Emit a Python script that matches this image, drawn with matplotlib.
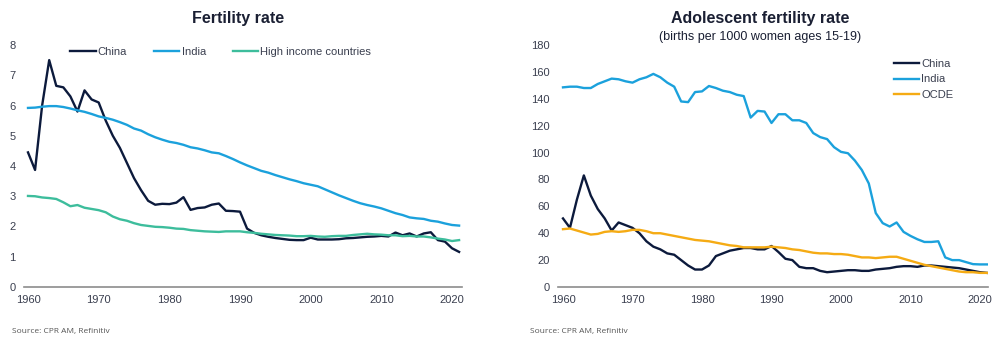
import matplotlib
matplotlib.use("Agg")
import matplotlib.pyplot as plt

plt.rcParams['font.family'] = ['Liberation Sans', 'DejaVu Sans']

years = list(range(1960, 2022))

# Fertility rate (births per woman)
china_fert = [4.45, 3.87, 6.0, 7.5, 6.65, 6.6, 6.3, 5.8, 6.5, 6.2, 6.1, 5.5, 5.0, 4.6, 4.1, 3.6,
              3.2, 2.85, 2.72, 2.75, 2.74, 2.79, 2.97, 2.55, 2.61, 2.63, 2.72, 2.76, 2.52, 2.51,
              2.49, 1.93, 1.79, 1.71, 1.66, 1.62, 1.59, 1.56, 1.55, 1.55, 1.63, 1.57, 1.57, 1.57,
              1.58, 1.61, 1.62, 1.64, 1.66, 1.67, 1.69, 1.67, 1.80, 1.71, 1.77, 1.67, 1.77, 1.81,
              1.55, 1.50, 1.28, 1.16]
india_fert = [5.92, 5.93, 5.96, 5.98, 5.98, 5.95, 5.90, 5.84, 5.79, 5.72, 5.64, 5.59, 5.53, 5.45,
              5.36, 5.24, 5.17, 5.05, 4.95, 4.87, 4.80, 4.76, 4.70, 4.62, 4.58, 4.52, 4.45, 4.42,
              4.33, 4.23, 4.12, 4.02, 3.93, 3.84, 3.78, 3.70, 3.63, 3.56, 3.50, 3.43, 3.38, 3.33,
              3.23, 3.13, 3.03, 2.94, 2.85, 2.77, 2.71, 2.66, 2.60, 2.52, 2.44, 2.38, 2.30, 2.27,
              2.25, 2.19, 2.16, 2.10, 2.05, 2.03]
high_inc_fert = [3.01, 3.00, 2.96, 2.94, 2.91, 2.80, 2.67, 2.71, 2.62, 2.58, 2.54, 2.47, 2.33,
                 2.24, 2.19, 2.11, 2.05, 2.02, 1.99, 1.98, 1.96, 1.93, 1.92, 1.88, 1.86, 1.84,
                 1.83, 1.82, 1.84, 1.84, 1.84, 1.81, 1.79, 1.76, 1.74, 1.72, 1.71, 1.70, 1.68,
                 1.68, 1.69, 1.67, 1.66, 1.68, 1.69, 1.69, 1.72, 1.74, 1.76, 1.74, 1.73, 1.71,
                 1.71, 1.68, 1.69, 1.67, 1.67, 1.64, 1.60, 1.57, 1.52, 1.55]

# Adolescent fertility rate (births per 1000 women ages 15-19)
china_ado = [51, 44, 65, 83, 68, 58, 51, 42, 48, 46, 44, 40, 34, 30, 28, 25, 24, 20, 16, 13,
             13, 16, 23, 25, 27, 28, 29, 29, 28, 28, 30.5, 26, 21, 20, 15, 14, 14, 12, 11, 11.5,
             12, 12.5, 12.5, 12, 12, 13, 13.5, 14, 15, 15.5, 15.5, 15, 16, 16, 15.5, 15, 14.5,
             14, 13, 12, 11, 10.5]
india_ado = [148.5, 149, 149, 148, 148, 151, 153, 155, 154.5, 153, 152, 154.5, 156, 158.5, 156,
             152, 149, 138, 137.5, 145, 145.5, 149.5, 148, 146, 145, 143, 142, 126, 131, 130.5,
             122, 128.5, 128.5, 124, 124, 122, 114.5, 111.5, 110, 104, 100.5, 99.5, 94, 87, 77,
             55, 47.5, 45, 48, 41, 38, 35.5, 33.5, 33.5, 34, 22, 20, 20, 18.5, 17, 16.8, 16.8]
ocde_ado = [43, 43.5, 42, 40.5, 39, 39.5, 41, 41.5, 41, 41.5, 42.5, 42.5, 41.5, 40, 40, 39, 38,
            37, 36, 35, 34.5, 34, 33, 32, 31, 30.5, 29.5, 29.5, 29.5, 29.5, 30, 29.5, 29, 28,
            27.5, 26.5, 25.5, 25, 25, 24.5, 24.5, 24, 23, 22, 22, 21.5, 22, 22.5, 22.5, 21,
            19.5, 18, 16.5, 15.5, 14.5, 13.5, 12.5, 11.5, 11, 11, 10.5, 10.5]

navy = '#0c1a3c'
blue = '#1ba1dc'
teal = '#3dbd9c'
gold = '#f5ab14'
txt = '#3a3f4f'

W, H = 1004, 343
fig = plt.figure(figsize=(W / 100, H / 100), dpi=100)


def style(ax, ymax, step):
    for s in ['top', 'right', 'left']:
        ax.spines[s].set_visible(False)
    ax.spines['bottom'].set_color('#8c8c8c')
    ax.spines['bottom'].set_linewidth(1.2)
    ax.set_ylim(0, ymax)
    ax.set_yticks(range(0, ymax + 1, step))
    ax.set_xticks(range(1960, 2021, 10))
    ax.tick_params(axis='both', length=0, labelsize=8, colors=txt, pad=6)
    ax.tick_params(axis='y', pad=6)


# left panel
ax1 = fig.add_axes([24 / W, (H - 287) / H, 438 / W, 242 / H])
ax1.plot(years, china_fert, color=navy, lw=1.7, label='China')
ax1.plot(years, india_fert, color=blue, lw=1.7, label='India')
ax1.plot(years, high_inc_fert, color=teal, lw=1.7, label='High income countries')
ax1.set_xlim(1960 - 4 / 7.067, 1960 + 434 / 7.067)
style(ax1, 8, 1)
ax1.legend(loc='upper left', bbox_to_anchor=(0.09, 1.02), ncol=3, frameon=False,
           fontsize=8, handlelength=2.3, handletextpad=0.2, columnspacing=2.4,
           labelcolor=txt, borderaxespad=0.2)
fig.text(238 / W, 1 - 18 / H, 'Fertility rate', ha='center', va='center',
         fontsize=11.5, fontweight='bold', color='#1a1f33')
fig.text(12 / W, 1 - 331 / H, 'Source: CPR AM, Refinitiv', ha='left', va='center',
         fontsize=6, color='#555555', family=['Open Sans', 'DejaVu Sans'])

# right panel
ax2 = fig.add_axes([558 / W, (H - 287) / H, 430 / W, 242 / H])
ax2.plot(years, china_ado, color=navy, lw=1.7, label='China')
ax2.plot(years, india_ado, color=blue, lw=1.7, label='India')
ax2.plot(years, ocde_ado, color=gold, lw=1.7, label='OCDE')
ax2.set_xlim(1960 - 5 / 6.95, 1960 + 425 / 6.95)
style(ax2, 180, 20)
ax2.legend(loc='upper left', bbox_to_anchor=(0.765, 0.97), frameon=False,
           fontsize=8, handlelength=2.3, handletextpad=0.2, labelspacing=0.5,
           labelcolor=txt, borderaxespad=0.2)
fig.text(760 / W, 1 - 18 / H, 'Adolescent fertility rate', ha='center', va='center',
         fontsize=11.5, fontweight='bold', color='#1a1f33')
fig.text(760 / W, 1 - 37 / H, '(births per 1000 women ages 15-19)', ha='center',
         va='center', fontsize=9, color='#1a1f33')
fig.text(530 / W, 1 - 331 / H, 'Source: CPR AM, Refinitiv', ha='left', va='center',
         fontsize=6, color='#555555', family=['Open Sans', 'DejaVu Sans'])

fig.savefig('out.png', dpi=100)
